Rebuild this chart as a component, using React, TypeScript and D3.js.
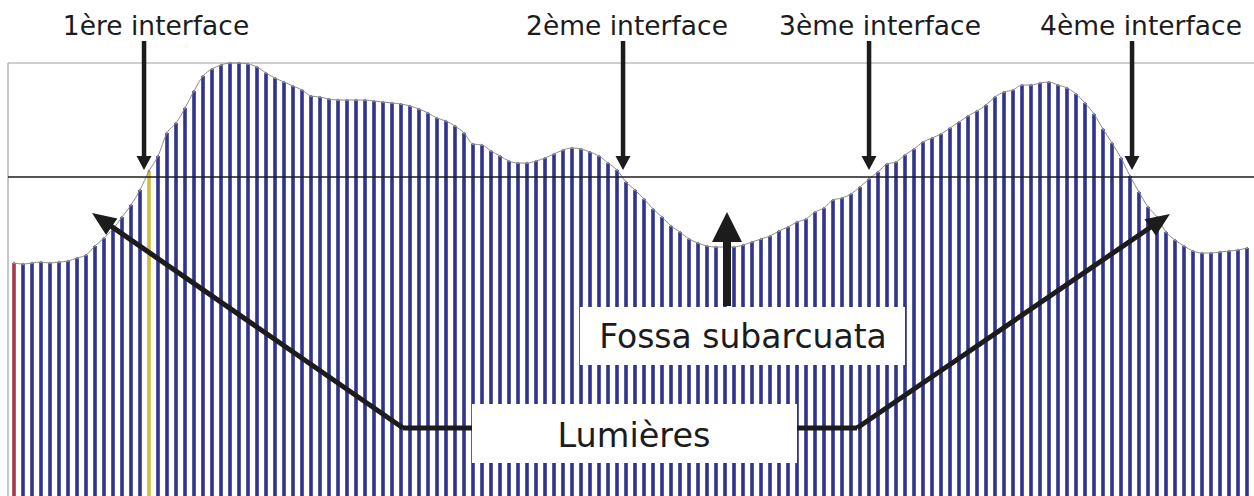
import React from "react";
import * as d3 from "d3";

// Bar heights (arbitrary units), one per bar, left to right
const barValues: number[] = [
  237, 236, 237, 238, 237, 238, 239, 242, 245, 254,
  262, 271, 283, 295, 310, 329, 344, 367, 377, 392,
  409, 424, 431, 435, 437, 437, 436, 433, 427, 422,
  418, 414, 410, 404, 403, 401, 400, 400, 400, 400,
  399, 398, 397, 396, 394, 391, 387, 382, 379, 374,
  367, 356, 355, 349, 344, 339, 337, 337, 339, 342,
  346, 350, 352, 351, 348, 344, 337, 330, 318, 310,
  301, 291, 283, 274, 268, 261, 257, 254, 253, 253,
  253, 255, 258, 261, 264, 269, 273, 278, 281, 288,
  292, 300, 302, 306, 313, 321, 328, 336, 338, 345,
  351, 358, 362, 366, 372, 378, 384, 389, 395, 403,
  408, 410, 415, 415, 417, 418, 415, 412, 406, 397,
  386, 371, 357, 342, 324, 308, 293, 283, 268, 260,
  254, 249, 247, 247, 248, 249, 250, 252,
];
const yMax = 437;
const thresholdValue = 323;
const specialBars: Record<number, string> = { 0: "#a83848", 15: "#d6bc3e" };

const interfaceLabels = ["1ère interface", "2ème interface", "3ème interface", "4ème interface"];
const interfaceX = [144, 623, 869, 1132];
const fossaLabel = "Fossa subarcuata";
const lumieresLabel = "Lumières";

const W = 1254;
const H = 496;
const FONT = "'DejaVu Sans', Verdana, sans-serif";
const INK = "#1c1c1c";

function arrowPath(x1: number, y1: number, x2: number, y2: number, shaftW: number, headL: number, headW: number) {
  const dx = x2 - x1, dy = y2 - y1;
  const len = Math.hypot(dx, dy);
  const ux = dx / len, uy = dy / len;
  const px = -uy, py = ux;
  const bx = x2 - ux * headL, by = y2 - uy * headL;
  const s = shaftW / 2, h = headW / 2;
  const pts = [
    [x1 + px * s, y1 + py * s],
    [bx + px * s, by + py * s],
    [bx + px * h, by + py * h],
    [x2, y2],
    [bx - px * h, by - py * h],
    [bx - px * s, by - py * s],
    [x1 - px * s, y1 - py * s],
  ];
  return "M" + pts.map((p) => p[0].toFixed(1) + "," + p[1].toFixed(1)).join("L") + "Z";
}

export default function App() {
  const n = barValues.length;
  const x = d3
    .scaleBand<number>()
    .domain(d3.range(n))
    .range([8, 1253])
    .paddingInner(0.6)
    .paddingOuter(0.467);
  const y = d3.scaleLinear().domain([0, yMax]).range([500, 63]);
  const bw = x.bandwidth();

  const profile = d3
    .line<number>()
    .x((_, i) => (x(i) as number) + bw / 2)
    .y((v) => y(v))
    .curve(d3.curveMonotoneX)(barValues) as string;

  const thrY = y(thresholdValue);

  // Lumières connectors
  const leftBend = [403, 428];
  const leftTip = [92, 213];
  const rightBend = [857, 428];
  const rightTip = [1170, 214];

  return (
    <div style={{ position: "absolute", left: 0, top: 0 }}>
      <svg width={W} height={H} style={{ display: "block", background: "#fff" }}>
        {/* plot frame */}
        <line x1={8} y1={63} x2={W} y2={63} stroke="#a0a0a0" strokeWidth={1.2} />
        <line x1={8} y1={63} x2={8} y2={H} stroke="#a0a0a0" strokeWidth={1.2} />

        {/* bars */}
        {barValues.map((v, i) => (
          <rect
            key={i}
            x={x(i)}
            y={y(v)}
            width={bw}
            height={y(0) - y(v)}
            fill={specialBars[i] ?? "#30348c"}
          />
        ))}

        {/* profile line */}
        <path d={profile} fill="none" stroke="#8a8a8a" strokeWidth={1} />
        {barValues.map((v, i) => (
          <circle key={"d" + i} cx={(x(i) as number) + bw / 2} cy={y(v)} r={1.2} fill="#8a8a8a" />
        ))}

        {/* threshold line */}
        <line x1={8} y1={thrY} x2={W} y2={thrY} stroke={INK} strokeWidth={1.6} />

        {/* interface labels and arrows */}
        {interfaceLabels.map((lab, i) => (
          <g key={lab}>
            <text
              x={[156, 627, 880, 1141][i]}
              y={35}
              textAnchor="middle"
              fontFamily={FONT}
              fontSize={26.5}
              fill={INK}
            >
              {lab}
            </text>
            <path d={arrowPath(interfaceX[i], 41, interfaceX[i], thrY - 7, 4.5, 14, 15)} fill={INK} />
          </g>
        ))}

        {/* Fossa subarcuata */}
        <path d={arrowPath(727, 306, 727, 212, 8, 30, 30)} fill={INK} />
        <rect x={580} y={307} width={325} height={58} fill="#fff" />
        <text x={743} y={348} textAnchor="middle" fontFamily={FONT} fontSize={33} fill={INK}>
          {fossaLabel}
        </text>

        {/* Lumières */}
        <line x1={472} y1={leftBend[1]} x2={leftBend[0]} y2={leftBend[1]} stroke={INK} strokeWidth={5} />
        <path d={arrowPath(leftBend[0], leftBend[1], leftTip[0], leftTip[1], 5, 24, 20)} fill={INK} />
        <line x1={797} y1={rightBend[1]} x2={rightBend[0]} y2={rightBend[1]} stroke={INK} strokeWidth={5} />
        <path d={arrowPath(rightBend[0], rightBend[1], rightTip[0], rightTip[1], 5, 24, 20)} fill={INK} />
        <rect x={472} y={404} width={325} height={59} fill="#fff" />
        <text x={634} y={447} textAnchor="middle" fontFamily={FONT} fontSize={33.5} fill={INK}>
          {lumieresLabel}
        </text>
      </svg>
    </div>
  );
}
